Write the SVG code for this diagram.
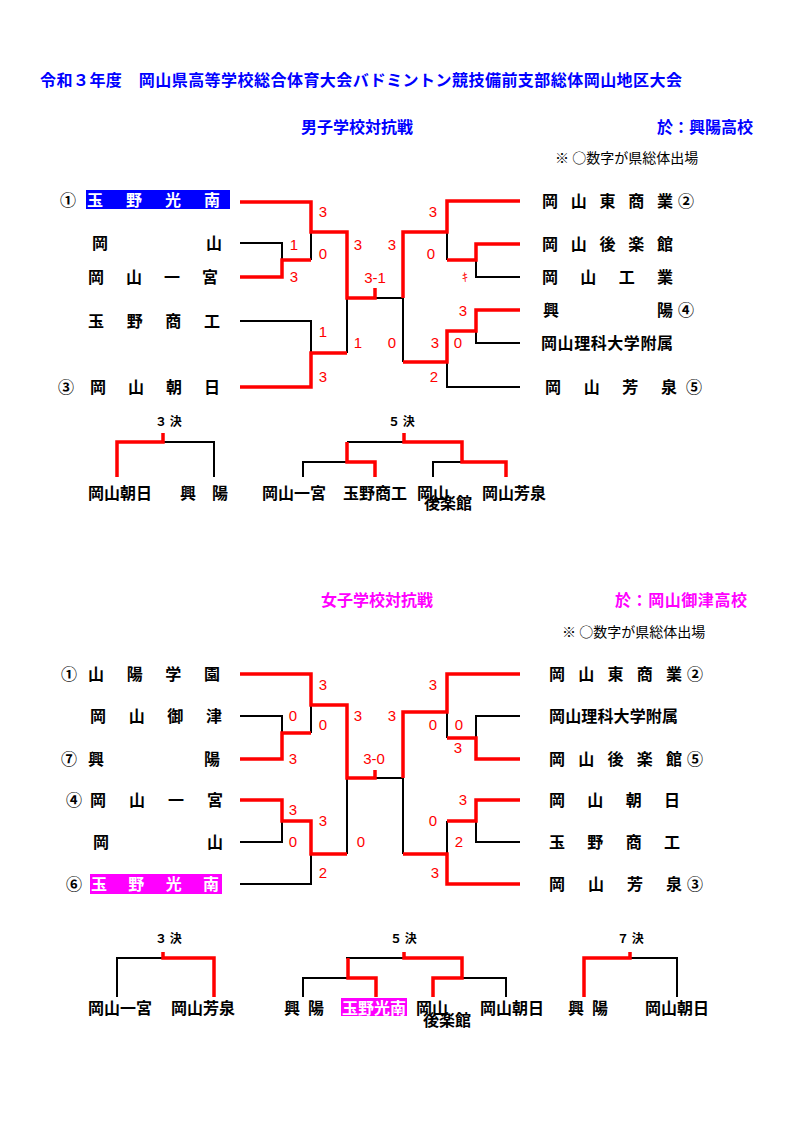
<svg xmlns="http://www.w3.org/2000/svg" width="794" height="1123" viewBox="0 0 794 1123">
<style>
.bg{fill:#ffffff}
.n{font-family:"Noto Sans CJK JP","Noto Sans CJK SC",sans-serif;font-size:16px;font-weight:bold;fill:#000}
.w{fill:#ffffff}
.h{font-family:"Noto Sans CJK JP","Noto Sans CJK SC",sans-serif;font-size:16px;font-weight:bold}
.blue{fill:#0000ff}
.mag{fill:#ff00ff}
.note{font-family:"Noto Sans CJK JP","Noto Sans CJK SC",sans-serif;font-size:14px;fill:#000}
.k{font-family:"Noto Sans CJK JP","Noto Sans CJK SC",sans-serif;font-size:12px;font-weight:bold;fill:#000}
.s{font-family:"Liberation Sans",Arial,sans-serif;font-size:15px;fill:#ff0000;text-anchor:middle}
.lb{fill:none;stroke:#000;stroke-width:2}
.lr{fill:none;stroke:#ff0000;stroke-width:3.5}
</style>
<rect class="bg" x="0" y="0" width="794" height="1123"/>

<g id="headers">
<text class="h blue" x="40" y="86" textLength="642" lengthAdjust="spacing">令和３年度　岡山県高等学校総合体育大会バドミントン競技備前支部総体岡山地区大会</text>
<text class="h blue" x="301" y="133">男子学校対抗戦</text>
<text class="h blue" x="657" y="133">於：興陽高校</text>
<text class="note" x="555" y="163">※ ○数字が県総体出場</text>
<text class="h mag" x="321" y="606">女子学校対抗戦</text>
<text class="h mag" x="615" y="606" textLength="132" lengthAdjust="spacing">於：岡山御津高校</text>
<text class="note" x="562" y="637">※ ○数字が県総体出場</text>
</g>

<g id="connectors">
<!-- boys black -->
<path class="lb" d="M240 243 H282 V260"/>
<path class="lb" d="M311 232 V260"/>
<path class="lb" d="M240 321 H311 V353"/>
<path class="lb" d="M347 298 V353"/>
<path class="lb" d="M375 298 H403 V362"/>
<path class="lb" d="M447 232 V260"/>
<path class="lb" d="M476 260 V277 H520"/>
<path class="lb" d="M476 331 V343 H520"/>
<path class="lb" d="M447 362 V387 H520"/>
<!-- boys red -->
<path class="lr" d="M240 202 H311 V232 H347 V298 H375 V288"/>
<path class="lr" d="M240 277 H282 V260 H311"/>
<path class="lr" d="M240 387 H311 V353 H347"/>
<path class="lr" d="M520 201 H447 V232 H403 V298"/>
<path class="lr" d="M447 260 H476 V244 H520"/>
<path class="lr" d="M403 362 H447 V331 H476 V310 H520"/>
<!-- boys placement -->
<path class="lb" d="M163 442 H214 V477"/>
<path class="lb" d="M303 477 V462 H347"/>
<path class="lb" d="M347 442 H404"/>
<path class="lb" d="M433 477 V462 H462"/>
<path class="lr" d="M163 433 V442 H117 V477"/>
<path class="lr" d="M404 433 V442 H462 V462 H506 V477"/>
<path class="lr" d="M347 442 V462 H375 V477"/>
<!-- girls black -->
<path class="lb" d="M240 716 H282 V733"/>
<path class="lb" d="M311 705 V733"/>
<path class="lb" d="M282 821 V842 H240"/>
<path class="lb" d="M347 778 V854"/>
<path class="lb" d="M240 884 H311 V854"/>
<path class="lb" d="M375 778 H403 V854"/>
<path class="lb" d="M447 712 V738"/>
<path class="lb" d="M476 738 V716 H520"/>
<path class="lb" d="M447 854 V821"/>
<path class="lb" d="M476 821 V842 H520"/>
<!-- girls red -->
<path class="lr" d="M240 674 H311 V705 H347 V778 H375 V770"/>
<path class="lr" d="M240 759 H282 V733 H311"/>
<path class="lr" d="M240 800 H282 V821 H311 V854 H347"/>
<path class="lr" d="M520 674 H447 V712 H403 V778"/>
<path class="lr" d="M447 738 H476 V759 H520"/>
<path class="lr" d="M403 854 H447 V884 H520"/>
<path class="lr" d="M447 821 H476 V800 H520"/>
<!-- girls placement -->
<path class="lb" d="M117 997 V958 H163"/>
<path class="lb" d="M303 997 V978 H348"/>
<path class="lb" d="M346 958 H404"/>
<path class="lb" d="M462 978 H506 V997"/>
<path class="lb" d="M630 958 H677 V997"/>
<path class="lr" d="M163 952 V958 H214 V997"/>
<path class="lr" d="M404 952 V958 H462 V978 H433 V997"/>
<path class="lr" d="M348 958 V978 H376 V997"/>
<path class="lr" d="M630 952 V958 H584 V997"/>
</g>

<g id="boys-left">
<g id="b-tamano-konan"><text class="n" x="60" y="206">①</text><rect x="86" y="190" width="144" height="19" fill="#0000ff"/><text class="n w" x="87" y="206" textLength="133" lengthAdjust="spacing">玉野光南</text></g>
<g id="b-okayama"><text class="n" x="92" y="249" textLength="130" lengthAdjust="spacing">岡山</text></g>
<g id="b-okayama-ichinomiya"><text class="n" x="88" y="283" textLength="130" lengthAdjust="spacing">岡山一宮</text></g>
<g id="b-tamano-shoko"><text class="n" x="88" y="327" textLength="132" lengthAdjust="spacing">玉野商工</text></g>
<g id="b-okayama-asahi"><text class="n" x="58" y="393">③</text><text class="n" x="90" y="393" textLength="130" lengthAdjust="spacing">岡山朝日</text></g>
</g>

<g id="boys-right">
<g id="b-higashi"><text class="n" x="542" y="207" textLength="131" lengthAdjust="spacing">岡山東商業</text><text class="n" x="678" y="207">②</text></g>
<g id="b-korakukan"><text class="n" x="542" y="250" textLength="131" lengthAdjust="spacing">岡山後楽館</text></g>
<g id="b-okayama-kogyo"><text class="n" x="542" y="283" textLength="131" lengthAdjust="spacing">岡山工業</text></g>
<g id="b-koyo"><text class="n" x="543" y="316" textLength="130" lengthAdjust="spacing">興陽</text><text class="n" x="678" y="316">④</text></g>
<g id="b-rika"><text class="n" x="541" y="349" textLength="132" lengthAdjust="spacing">岡山理科大学附属</text></g>
<g id="b-hosen"><text class="n" x="545" y="393" textLength="132" lengthAdjust="spacing">岡山芳泉</text><text class="n" x="686" y="393">⑤</text></g>
</g>

<g id="boys-scores">
<text class="s" x="323" y="217">3</text>
<text class="s" x="294" y="250">1</text>
<text class="s" x="323" y="259">0</text>
<text class="s" x="294" y="282">3</text>
<text class="s" x="323" y="337">1</text>
<text class="s" x="323" y="382">3</text>
<text class="s" x="358" y="250">3</text>
<text class="s" x="392" y="250">3</text>
<text class="s" x="375" y="283">3-1</text>
<text class="s" x="358" y="348">1</text>
<text class="s" x="392" y="348">0</text>
<text class="s" x="433" y="217">3</text>
<text class="s" x="431" y="259">0</text>
<text class="s" x="465" y="282" style="font-family:'Noto Sans CJK JP',sans-serif;font-size:12px">ｷ</text>
<text class="s" x="463" y="316">3</text>
<text class="s" x="435" y="348">3</text>
<text class="s" x="458" y="348">0</text>
<text class="s" x="434" y="382">2</text>
</g>

<g id="boys-placement">
<text class="k" x="155" y="426">３ 決</text>
<text class="k" x="388" y="426">５ 決</text>
<g id="b-p-asahi"><text class="n" x="88" y="499">岡山朝日</text></g>
<g id="b-p-koyo"><text class="n" x="180" y="499" textLength="48" lengthAdjust="spacing">興陽</text></g>
<g id="b-p-ichinomiya"><text class="n" x="262" y="499">岡山一宮</text></g>
<g id="b-p-tamano-shoko"><text class="n" x="343" y="499">玉野商工</text></g>
<g id="b-p-korakukan"><text class="n" x="417" y="499">岡山</text><text class="n" x="424" y="509">後楽館</text></g>
<g id="b-p-hosen"><text class="n" x="482" y="499">岡山芳泉</text></g>
</g>

<g id="girls-left">
<g id="g-sanyo"><text class="n" x="61" y="680">①</text><text class="n" x="88" y="680" textLength="132" lengthAdjust="spacing">山陽学園</text></g>
<g id="g-mitsu"><text class="n" x="90" y="722" textLength="132" lengthAdjust="spacing">岡山御津</text></g>
<g id="g-koyo"><text class="n" x="61" y="765">⑦</text><text class="n" x="88" y="765" textLength="132" lengthAdjust="spacing">興陽</text></g>
<g id="g-ichinomiya"><text class="n" x="66" y="806">④</text><text class="n" x="90" y="806" textLength="133" lengthAdjust="spacing">岡山一宮</text></g>
<g id="g-okayama"><text class="n" x="93" y="848" textLength="130" lengthAdjust="spacing">岡山</text></g>
<g id="g-tamano-konan"><text class="n" x="66" y="890">⑥</text><rect x="90" y="874" width="132" height="20" fill="#ff00ff"/><text class="n w" x="91" y="890" textLength="128" lengthAdjust="spacing">玉野光南</text></g>
</g>

<g id="girls-right">
<g id="g-higashi"><text class="n" x="549" y="680" textLength="133" lengthAdjust="spacing">岡山東商業</text><text class="n" x="687" y="680">②</text></g>
<g id="g-rika"><text class="n" x="549" y="722" textLength="129" lengthAdjust="spacing">岡山理科大学附属</text></g>
<g id="g-korakukan"><text class="n" x="549" y="765" textLength="133" lengthAdjust="spacing">岡山後楽館</text><text class="n" x="687" y="765">⑤</text></g>
<g id="g-asahi"><text class="n" x="549" y="806" textLength="131" lengthAdjust="spacing">岡山朝日</text></g>
<g id="g-tamano-shoko"><text class="n" x="549" y="848" textLength="131" lengthAdjust="spacing">玉野商工</text></g>
<g id="g-hosen"><text class="n" x="549" y="890" textLength="133" lengthAdjust="spacing">岡山芳泉</text><text class="n" x="687" y="890">③</text></g>
</g>

<g id="girls-scores">
<text class="s" x="323" y="690">3</text>
<text class="s" x="293" y="721">0</text>
<text class="s" x="323" y="730">0</text>
<text class="s" x="293" y="764">3</text>
<text class="s" x="358" y="721">3</text>
<text class="s" x="392" y="721">3</text>
<text class="s" x="374" y="764">3-0</text>
<text class="s" x="293" y="815">3</text>
<text class="s" x="323" y="826">3</text>
<text class="s" x="293" y="847">0</text>
<text class="s" x="361" y="847">0</text>
<text class="s" x="323" y="878">2</text>
<text class="s" x="433" y="690">3</text>
<text class="s" x="433" y="730">0</text>
<text class="s" x="459" y="730">0</text>
<text class="s" x="458" y="753">3</text>
<text class="s" x="463" y="805">3</text>
<text class="s" x="433" y="826">0</text>
<text class="s" x="459" y="847">2</text>
<text class="s" x="435" y="878">3</text>
</g>

<g id="girls-placement">
<text class="k" x="155" y="943">３ 決</text>
<text class="k" x="390" y="943">５ 決</text>
<text class="k" x="617" y="943">７ 決</text>
<g id="g-p-ichinomiya"><text class="n" x="88" y="1014">岡山一宮</text></g>
<g id="g-p-hosen"><text class="n" x="171" y="1014">岡山芳泉</text></g>
<g id="g-p-koyo5"><text class="n" x="284" y="1014" textLength="40" lengthAdjust="spacing">興陽</text></g>
<g id="g-p-tamano-konan"><rect x="341" y="998" width="66" height="18" fill="#ff00ff"/><text class="n w" x="342" y="1014">玉野光南</text></g>
<g id="g-p-korakukan"><text class="n" x="416" y="1014">岡山</text><text class="n" x="423" y="1026">後楽館</text></g>
<g id="g-p-asahi5"><text class="n" x="480" y="1014">岡山朝日</text></g>
<g id="g-p-koyo7"><text class="n" x="568" y="1014" textLength="40" lengthAdjust="spacing">興陽</text></g>
<g id="g-p-asahi7"><text class="n" x="645" y="1014">岡山朝日</text></g>
</g>
</svg>
